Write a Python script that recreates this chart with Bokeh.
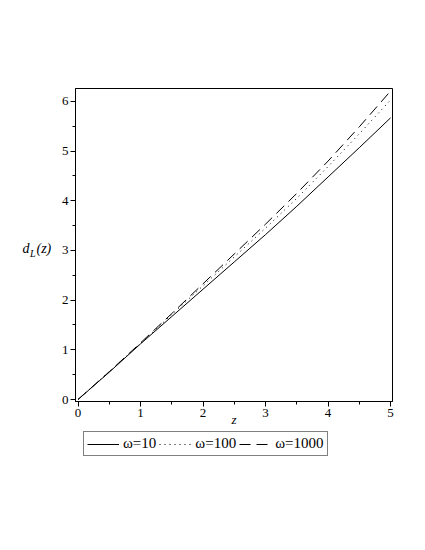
from bokeh.plotting import figure
from bokeh.layouts import column, row
from bokeh.models import Label, Legend, LegendItem, Range1d, SingleIntervalTicker
from bokeh.embed import file_html
from bokeh.resources import INLINE

z = [0.0, 0.5, 1.0, 1.5, 2.0, 2.5, 3.0, 3.5, 4.0, 4.5, 5.0]
dl_w10 = [0.0, 0.55, 1.12, 1.67, 2.22, 2.77, 3.32, 3.89, 4.48, 5.07, 5.67]
dl_w100 = [0.0, 0.56, 1.13, 1.71, 2.29, 2.87, 3.45, 4.05, 4.69, 5.35, 6.03]
dl_w1000 = [0.0, 0.56, 1.14, 1.73, 2.33, 2.93, 3.53, 4.15, 4.80, 5.49, 6.21]
labels = ["ω=10", "ω=100", "ω=1000"]

SERIF = "Liberation Serif"
styles = [dict(line_color="black", line_width=1),
          dict(line_color="black", line_width=1, line_dash="1 4"),
          dict(line_color="black", line_width=1, line_dash="11 6")]
series = [dl_w10, dl_w100, dl_w1000]

X_RANGE = (-0.04, 5.03)
Y_RANGE = (-0.04, 6.26)

# ---- main plot ----
p = figure(width=354, height=430, output_backend="svg", toolbar_location=None,
           x_range=Range1d(*X_RANGE), y_range=Range1d(*Y_RANGE),
           min_border_left=20, min_border_right=17, min_border_top=88,
           min_border_bottom=29)
p.background_fill_color = "white"
p.border_fill_color = "white"
p.outline_line_color = "black"
p.outline_line_width = 1
p.grid.visible = False

for ax in (p.xaxis[0], p.yaxis[0]):
    ax.axis_line_color = "black"
    ax.major_tick_line_color = "black"
    ax.minor_tick_line_color = "black"
    ax.major_tick_out = 5
    ax.major_tick_in = 0
    ax.minor_tick_out = 3
    ax.minor_tick_in = 0
    ax.major_label_text_font = SERIF
    ax.major_label_text_font_size = "13px"
    ax.major_label_text_color = "black"
    ax.major_label_standoff = 2

p.xaxis[0].ticker = SingleIntervalTicker(interval=1, num_minor_ticks=2)
p.yaxis[0].ticker = SingleIntervalTicker(interval=1, num_minor_ticks=2)
p.xaxis[0].axis_label = "z"
p.xaxis[0].axis_label_text_font = SERIF
p.xaxis[0].axis_label_text_font_style = "italic"
p.xaxis[0].axis_label_text_font_size = "13px"
p.xaxis[0].axis_label_text_color = "black"
p.xaxis[0].axis_label_standoff = -8

for ys, st in zip(series, styles):
    p.line(z, ys, **st)

# ---- y-axis label panel (frame aligned with main frame) ----
lab = figure(width=55, height=430, output_backend="svg", toolbar_location=None,
             x_axis_type=None, y_axis_type=None, min_border=0,
             x_range=Range1d(0, 55), y_range=Range1d(*Y_RANGE))
lab.outline_line_color = None
lab.grid.visible = False
lab.add_layout(Label(x=22, y=3.04, text="d",
                     text_font=SERIF, text_font_style="italic", text_font_size="14px",
                     text_baseline="middle", text_align="left", text_color="black"))
lab.add_layout(Label(x=29.5, y=2.93, text="L",
                     text_font=SERIF, text_font_style="italic", text_font_size="10px",
                     text_baseline="middle", text_align="left", text_color="black"))
lab.add_layout(Label(x=36, y=3.04, text="(z)",
                     text_font=SERIF, text_font_style="italic", text_font_size="14px",
                     text_baseline="middle", text_align="left", text_color="black"))

# ---- legend panel ----
lg = figure(width=409, height=60, output_backend="svg", toolbar_location=None,
            x_axis_type=None, y_axis_type=None, min_border=0,
            x_range=Range1d(100, 101), y_range=Range1d(100, 101))
lg.outline_line_color = None
lg.grid.visible = False
items = []
for name, ys, st in zip(labels, series, styles):
    r = lg.line(z, ys, **st)
    items.append(LegendItem(label=name, renderers=[r]))
legend = Legend(items=items, orientation="horizontal", location=(83, 34),
                glyph_width=32, glyph_height=14, label_standoff=4, spacing=3,
                padding=3, margin=0,
                label_text_font=SERIF, label_text_font_size="15px",
                label_text_color="black",
                border_line_color="black", border_line_width=1,
                background_fill_alpha=1.0)
lg.add_layout(legend, "center")

layout = column(row(lab, p), lg)
open("out.html", "w").write(file_html(layout, INLINE))
